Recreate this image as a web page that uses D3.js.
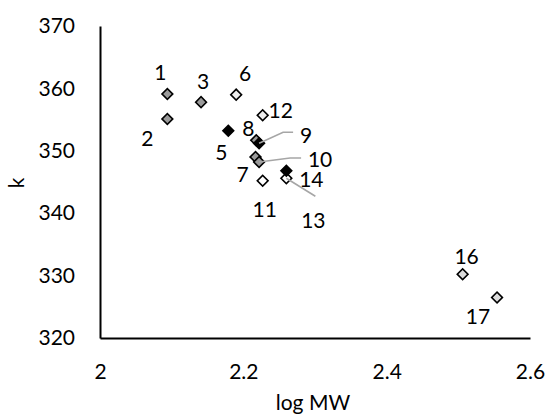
<!DOCTYPE html>
<html>
<head>
<meta charset="utf-8">
<script src="https://cdn.jsdelivr.net/npm/d3@7"></script>
<style>
  html, body { margin: 0; padding: 0; background: #fff; }
  svg { display: block; font-family: Lato, "Liberation Sans", sans-serif; }
</style>
</head>
<body>
<svg id="chart" width="552" height="414"></svg>
<script>
// Compound numbers, log molecular weight and k values
const ids    = [1, 2, 3, 5, 6, 7, 8, 9, 10, 11, 12, 13, 14, 16, 17];
const logMW  = [2.094, 2.094, 2.141, 2.179, 2.190, 2.217, 2.218, 2.222, 2.222, 2.227, 2.227, 2.260, 2.260, 2.506, 2.554];
const kVals  = [359.1, 355.1, 357.8, 353.2, 359.0, 349.0, 351.7, 351.2, 348.2, 345.2, 355.7, 345.6, 346.8, 330.2, 326.5];
const groups = ["B", "B", "B", "D", "A", "B", "B", "D", "B", "W", "A", "W", "D", "C", "C"];

const xTicks = [2, 2.2, 2.4, 2.6];
const yTicks = [320, 330, 340, 350, 360, 370];

const svg = d3.select("#chart");
const plot = { left: 100, right: 530, top: 26, bottom: 338 };

const x = d3.scaleLinear().domain([2, 2.6]).range([plot.left, plot.right]);
const y = d3.scaleLinear().domain([320, 370]).range([plot.bottom, plot.top]);

const fill = d3.scaleOrdinal()
  .domain(["A", "B", "C", "D", "W"])
  .range(["#ededed", "#9a9a9a", "#dcdcdc", "#000000", "#ffffff"]);

const fontSize = 21;
const fontFamily = "Lato, 'Liberation Sans', sans-serif";

// Axes: plain lines, no tick marks
const xAxis = d3.axisBottom(x).tickValues(xTicks).tickSize(0).tickPadding(26)
  .tickFormat(d3.format("~g"));
svg.append("g")
  .attr("transform", `translate(0,${plot.bottom})`)
  .call(xAxis)
  .call(g => g.select(".domain").attr("stroke", "#000").attr("stroke-width", 2))
  .call(g => g.selectAll("text").attr("font-size", fontSize).attr("fill", "#000")
    .attr("font-family", fontFamily));

const yAxis = d3.axisLeft(y).tickValues(yTicks).tickSize(0).tickPadding(25);
svg.append("g")
  .attr("transform", `translate(${plot.left},0)`)
  .call(yAxis)
  .call(g => g.select(".domain").attr("stroke", "#000").attr("stroke-width", 2))
  .call(g => g.selectAll("text").attr("font-size", fontSize).attr("fill", "#000")
    .attr("font-family", fontFamily));

// Axis titles
svg.append("text")
  .attr("x", 313)
  .attr("y", 410)
  .attr("text-anchor", "middle")
  .attr("font-size", fontSize)
  .text("log MW");

svg.append("text")
  .attr("transform", `translate(24,183) rotate(-90)`)
  .attr("text-anchor", "middle")
  .attr("font-size", fontSize)
  .text("k");

const pts = ids.map((id, i) => ({ id, x: logMW[i], y: kVals[i], g: groups[i] }));

// Label placement relative to each marker (pixels)
const labelOffset = {
  1: [-7, -22], 2: [-20, 19], 3: [2, -21], 5: [-7, 22], 6: [9, -21],
  7: [-13, 17], 8: [-8, -12], 9: [47, -8], 10: [61, -3], 11: [2, 29],
  12: [18, -5], 13: [27, 42], 14: [25, 9], 16: [4, -18], 17: [-19, 19]
};
// Leader lines for crowded labels
const leaders = {
  9: [[0, 0], [24, -11], [34, -11]],
  10: [[0, 0], [31, -4], [42, -4]],
  13: [[0, 0], [29, 18]]
};

const diamond = d3.symbol().type(d3.symbolSquare).size(58);

svg.append("g").selectAll("path")
  .data(pts)
  .join("path")
  .attr("d", diamond)
  .attr("transform", d => `translate(${x(d.x)},${y(d.y)}) rotate(45)`)
  .attr("fill", d => fill(d.g))
  .attr("stroke", "#000")
  .attr("stroke-width", 1.6);

const line = d3.line();
svg.append("g").selectAll("path")
  .data(pts.filter(d => leaders[d.id]))
  .join("path")
  .attr("d", d => line(leaders[d.id].map(([dx, dy]) => [x(d.x) + dx, y(d.y) + dy])))
  .attr("fill", "none")
  .attr("stroke", "#a6a6a6")
  .attr("stroke-width", 1.6);

svg.append("g").selectAll("text")
  .data(pts)
  .join("text")
  .attr("x", d => x(d.x) + labelOffset[d.id][0])
  .attr("y", d => y(d.y) + labelOffset[d.id][1])
  .attr("dy", "0.36em")
  .attr("text-anchor", "middle")
  .attr("font-size", fontSize)
  .attr("fill", "#000")
  .text(d => d.id);
</script>
</body>
</html>
